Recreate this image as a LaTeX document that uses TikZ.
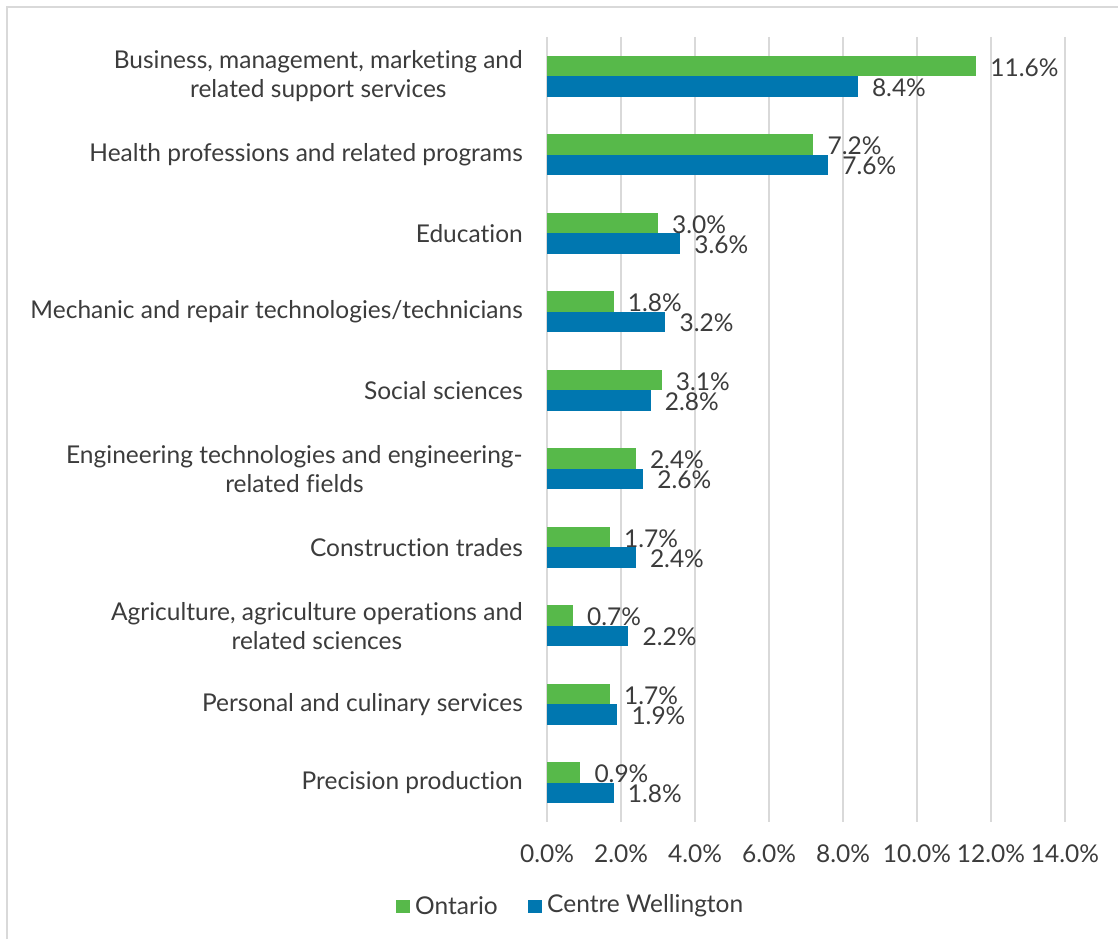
\documentclass[tikz,border=0pt]{standalone}
\usepackage{fontspec}
\setmainfont{Lato}[Ligatures={NoCommon}]
\definecolor{ongreen}{RGB}{87,185,74}
\definecolor{cwblue}{RGB}{0,119,176}
\definecolor{gridgray}{RGB}{217,217,217}
\definecolor{txt}{RGB}{60,60,60}
\begin{document}
\begin{tikzpicture}[x=1pt,y=-1pt,
  lbl/.style={text=txt,font=\fontsize{24.5}{29}\selectfont,inner sep=0pt},
  cat/.style={lbl,anchor=east,align=center},
  val/.style={lbl,anchor=west},
  grid/.style={gridgray,line width=2pt},
  gbar/.style={fill=ongreen},
  bbar/.style={fill=cwblue}]
\useasboundingbox (0,0) rectangle (1118,939);
\fill[white] (0,0) rectangle (1118,939);
\draw[grid] (7,939) -- (7,7) -- (1118,7);
% gridlines and tick labels
\foreach \k/\t in {0/0.0,1/2.0,2/4.0,3/6.0,4/8.0,5/10.0,6/12.0,7/14.0} {
  \draw[grid] ({547+74*\k},37) -- ({547+74*\k},822);
  \node[lbl] (tick\k) at ({547+74*\k},854) {\t\%};
}
% bars and value labels
\foreach \i/\g/\b in {0/11.6/8.4,1/7.2/7.6,2/3.0/3.6,3/1.8/3.2,4/3.1/2.8,5/2.4/2.6,6/1.7/2.4,7/0.7/2.2,8/1.7/1.9,9/0.9/1.8} {
  \pgfmathsetmacro\c{76.25+78.5*\i}
  \fill[gbar] (547,{\c-20.5}) rectangle ({547+37*\g},\c);
  \fill[bbar] (547,\c) rectangle ({547+37*\b},{\c+20.5});
  \node[val] (vg\i) at ({547+37*\g+14},{\c-9}) {\g\%};
  \node[val] (vb\i) at ({547+37*\b+14},{\c+11}) {\b\%};
}
% category labels
\node[cat] (cat0) at (523,76.25) {Business, management, marketing and\\related support services};
\node[cat] (cat1) at (523,154.75) {Health professions and related programs};
\node[cat] (cat2) at (523,233.25) {Education};
\node[cat] (cat3) at (523,311.75) {Mechanic and repair technologies/technicians};
\node[cat] (cat4) at (523,390.25) {Social sciences};
\node[cat] (cat5) at (523,468.75) {Engineering technologies and engineering-\\related fields};
\node[cat] (cat6) at (523,547.25) {Construction trades};
\node[cat] (cat7) at (523,625.75) {Agriculture, agriculture operations and\\related sciences};
\node[cat] (cat8) at (523,704.25) {Personal and culinary services};
\node[cat] (cat9) at (523,782.75) {Precision production};
% legend
\fill[gbar] (396,899.5) rectangle (409.5,913);
\node[lbl,anchor=west] (legon) at (415,906) {Ontario};
\fill[bbar] (528,899.5) rectangle (541.5,913);
\node[lbl,anchor=west] (legcw) at (547,906) {Centre Wellington};
\end{tikzpicture}
\end{document}
